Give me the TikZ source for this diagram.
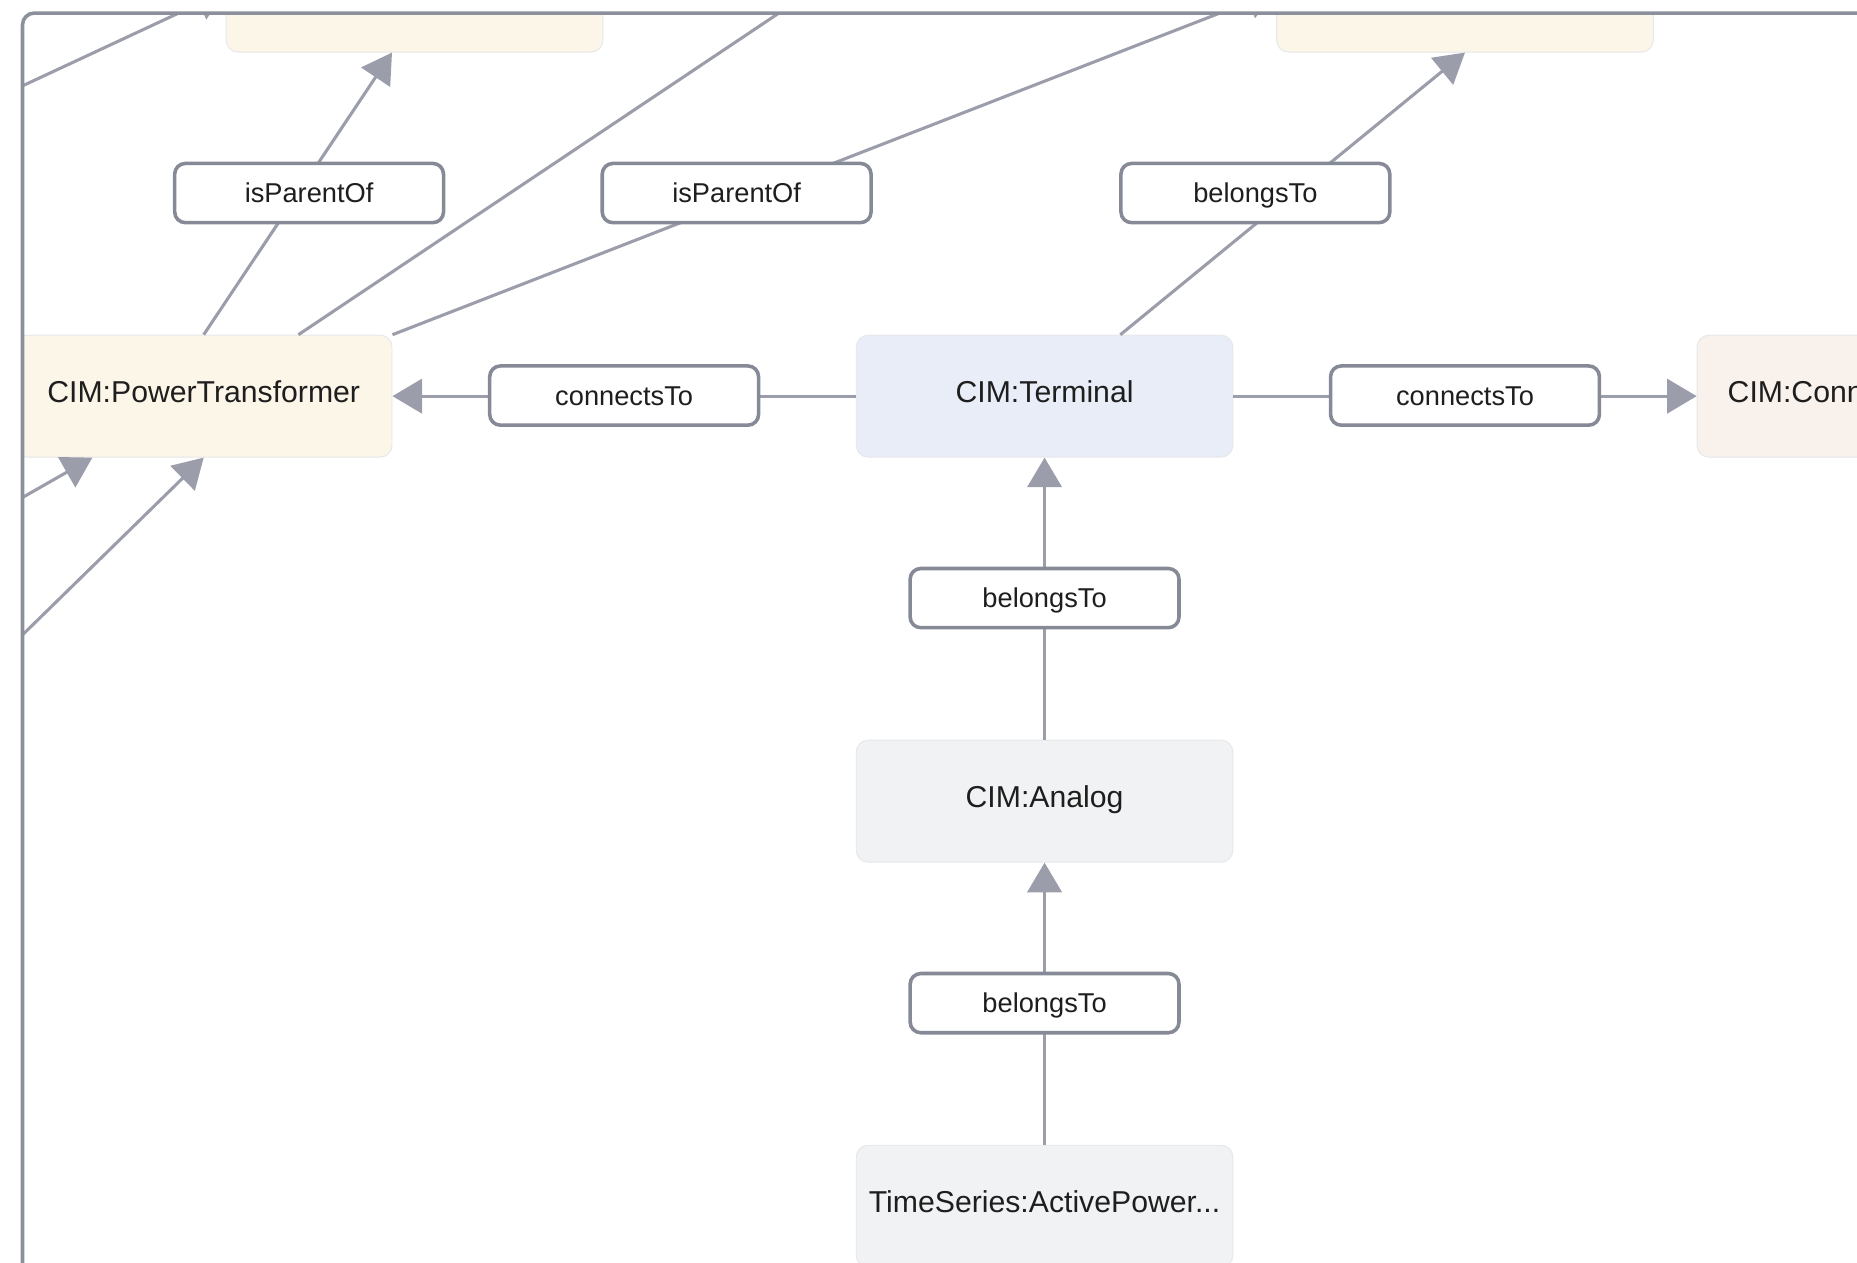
\documentclass[tikz,border=0pt]{standalone}
\usepackage{fontspec}
\setmainfont{Liberation Sans}
\usetikzlibrary{arrows.meta}
\definecolor{edgegray}{HTML}{9B9EAA}
\definecolor{lblborder}{HTML}{868A96}
\definecolor{framegray}{HTML}{8C909C}
\definecolor{cream}{HTML}{FCF6E8}
\definecolor{termblue}{HTML}{E9EDF8}
\definecolor{lightgray}{HTML}{F1F2F4}
\definecolor{peach}{HTML}{F9F1EC}
\definecolor{txt}{HTML}{1E1E1E}
\definecolor{nodeedge}{HTML}{E6E7EA}
\begin{document}
\begin{tikzpicture}[x=1pt,y=-1pt,
  ent/.style={rectangle, rounded corners=10pt, minimum width=318pt, minimum height=103pt,
    draw=nodeedge, line width=0.8pt, inner sep=0pt, text=txt,
    font=\fontsize{25.5}{30}\selectfont, text height=18pt, text depth=7pt},
  enttext/.style={inner sep=0pt, text=txt, font=\fontsize{25.5}{30}\selectfont,
    text height=18pt, text depth=7pt},
  rel/.style={rectangle, rounded corners=9pt, minimum width=227pt, minimum height=50pt,
    draw=lblborder, line width=3pt, fill=white, inner sep=0pt, text=txt,
    font=\fontsize{23}{27}\selectfont, text height=16pt, text depth=0pt},
  link/.style={draw=edgegray, line width=2.6pt},
  arr/.style={link, -{Triangle[length=25pt,width=29pt]}},
]
\useasboundingbox (0,0) rectangle (1568,1065.6);
\begin{scope}
  \clip[rounded corners=10pt] (19,11) rectangle (1700,1200);
  % entity nodes
  \node[ent, fill=cream] (tl) at (350,-7.5) {};
  \node[ent, fill=cream] (tr) at (1237,-7.5) {};
  \node[ent, fill=cream] (pt) at (172,334.5) {CIM:PowerTransformer};
  \node[ent, fill=termblue] (term) at (882,334.5) {CIM:Terminal};
  \node[ent, fill=lightgray] (ana) at (882,676.5) {CIM:Analog};
  \node[ent, fill=lightgray] (ts) at (882,1018.5) {TimeSeries:ActivePower...};
  \node[ent, fill=peach] (cn) at (1592,334.5) {};
  \node[enttext, anchor=west] (cntext) at ([xshift=26pt]cn.west) {CIM:Conn};
  % free ends outside the view
  \coordinate (offA) at (-40,100);
  \coordinate (offB) at (719,-30);
  \coordinate (offC) at (-30,448);
  \coordinate (offD) at (-30,584);
  % connectors
  \draw[arr] (offA) -- (tl.west);
  \draw[arr] (pt.north) -- ([xshift=-19pt]tl.south);
  \draw[link] ([xshift=80pt]pt.north) -- (offB);
  \draw[arr] (pt.north east) -- (tr.west);
  \draw[arr] ([xshift=64pt]term.north) -- (tr.south);
  \draw[arr] (term.west) -- (pt.east);
  \draw[arr] (term.east) -- (cn.west);
  \draw[arr] (ana.north) -- (term.south);
  \draw[arr] (ts.north) -- (ana.south);
  \draw[arr] (offC) -- ([xshift=-94pt]pt.south);
  \draw[arr] (offD) -- (pt.south);
  % relation labels
  \node[rel] (l1) at (261,163) {isParentOf};
  \node[rel] (l2) at (622,163) {isParentOf};
  \node[rel] (l3) at (1060,163) {belongsTo};
  \node[rel] (l4) at (527,334) {connectsTo};
  \node[rel] (l5) at (1237,334) {connectsTo};
  \node[rel] (l6) at (882,505) {belongsTo};
  \node[rel] (l7) at (882,847) {belongsTo};
\end{scope}
\draw[framegray, line width=3pt, rounded corners=10pt] (19,11) rectangle (1700,1200);
\end{tikzpicture}
\end{document}
